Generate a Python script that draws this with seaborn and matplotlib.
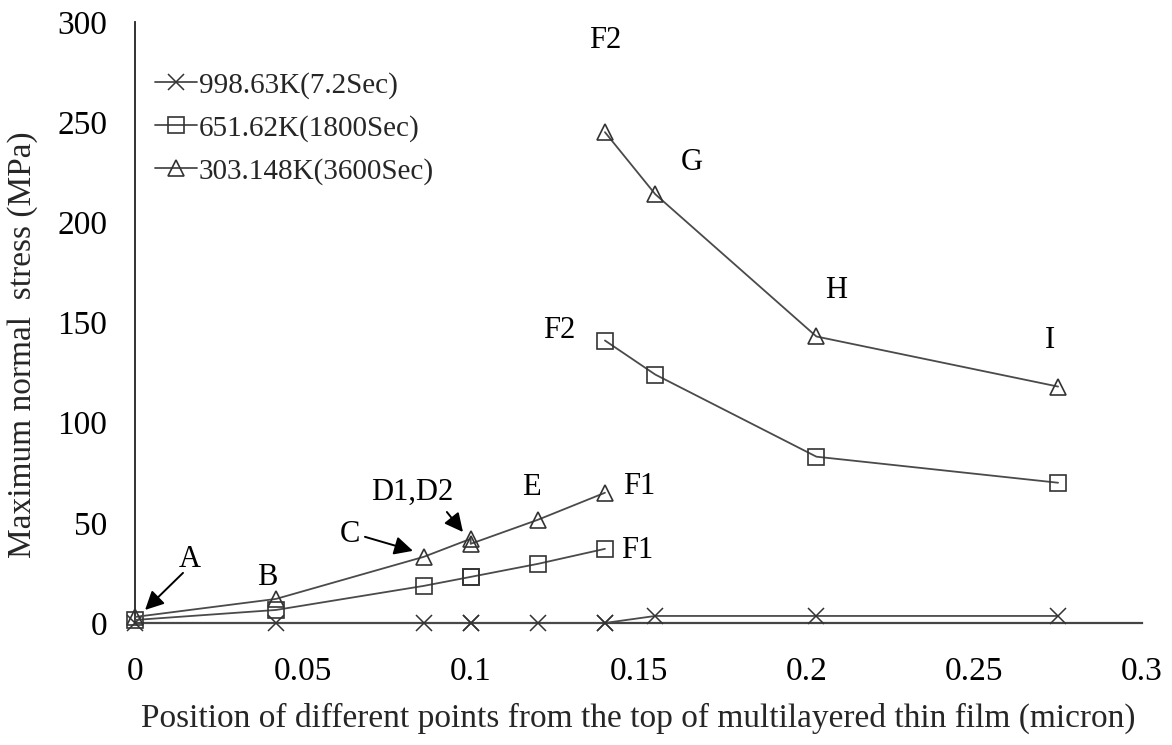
import numpy as np
import pandas as pd
import matplotlib
matplotlib.use("Agg")
import matplotlib.pyplot as plt
from matplotlib.lines import Line2D
import seaborn as sns

# ---------------- data ----------------
point_labels = ["A", "B", "C", "D1", "D2", "E", "F1", "F2", "G", "H", "I"]
x_pos = [0.0, 0.042, 0.086, 0.1, 0.1, 0.12, 0.14, 0.14, 0.155, 0.203, 0.275]
segment = [1, 1, 1, 1, 1, 1, 1, 2, 2, 2, 2]

stress_998 = [0, 0, 0, 0, 0, 0, 0, 0, 3.5, 3.5, 3.5]
stress_651 = [1.5, 6.5, 18.5, 23, 23, 29.5, 37, 141, 124, 83, 70]
stress_303 = [3, 12, 33, 42, 39.5, 51.5, 65, 245, 214, 143, 118]

series_names = ["998.63K(7.2Sec)", "651.62K(1800Sec)", "303.148K(3600Sec)"]
x_ticks = [0, 0.05, 0.1, 0.15, 0.2, 0.25, 0.3]
x_tick_labels = ["0", "0.05", "0.1", "0.15", "0.2", "0.25", "0.3"]
y_ticks = [0, 50, 100, 150, 200, 250, 300]

xlabel = "Position of different points from the top of multilayered thin film (micron)"
ylabel = "Maximum normal  stress (MPa)"

# annotation texts and their positions (data coords)
ann_texts = ["A", "B", "C", "D1,D2", "E", "F1", "F1", "F2", "F2", "G", "H", "I"]
ann_x = [0.0164, 0.0393, 0.064, 0.0825, 0.118, 0.1503, 0.1497, 0.1265, 0.140, 0.166, 0.209, 0.2726]
ann_y = [31.5, 22.5, 44, 65, 67.5, 68, 36, 146, 291, 230, 166, 141]

arrow_start = [(0.0143, 25), (0.0685, 43), (0.0929, 55.4)]
arrow_end = [(0.003, 6.5), (0.0828, 36), (0.0977, 45.4)]

# ---------------- style ----------------
sns.set_theme(style="white")
plt.rcParams["font.family"] = ["Liberation Serif", "DejaVu Serif"]
FS_TICK = 24
FS_LAB = 24
FS_ANN = 22
FS_LEG = 21
line_col = "#4a4a4a"
mk_col = "#333333"

fig = plt.figure(figsize=(11.72, 7.45), dpi=100)
ax = fig.add_axes([0.1152, 0.1638, 0.8592, 0.8067])

df = pd.DataFrame({"x": x_pos, "seg": segment, "label": point_labels,
                   "s998": stress_998, "s651": stress_651, "s303": stress_303})

# cross series: one continuous line
sns.lineplot(data=df, x="x", y="s998", ax=ax, sort=False, estimator=None,
             color=line_col, lw=1.3, marker="x", markersize=12,
             markeredgecolor=mk_col, markeredgewidth=1.1, zorder=3)
for col, mk in [("s651", "s"), ("s303", "^")]:
    sns.lineplot(data=df, x="x", y=col, units="seg", ax=ax, sort=False,
                 estimator=None, color=line_col, lw=1.3, marker=mk,
                 markersize=12, markerfacecolor="none",
                 markeredgecolor=mk_col, markeredgewidth=1.2, zorder=3)

ax.set_xlim(0, 0.3)
ax.set_ylim(0, 300)
ax.set_xticks(x_ticks)
ax.set_xticklabels(x_tick_labels)
ax.set_yticks(y_ticks)
ax.tick_params(axis="both", length=0, labelsize=FS_TICK, colors="black")
ax.tick_params(axis="x", pad=24)
ax.tick_params(axis="y", pad=20)

for s in ["top", "right"]:
    ax.spines[s].set_visible(False)
ax.spines["left"].set_color("#222222")
ax.spines["left"].set_linewidth(1.3)
ax.spines["bottom"].set_color("#444444")
ax.spines["bottom"].set_linewidth(1.6)
ax.spines["left"].set_zorder(1)
ax.spines["bottom"].set_zorder(1)
for ln in ax.lines:
    ln.set_clip_on(False)

ax.set_xlabel(xlabel, fontsize=FS_LAB)
ax.set_ylabel(ylabel, fontsize=FS_LAB)
ax.xaxis.set_label_coords(0.5, -0.132)
ax.yaxis.set_label_coords(-0.096, 0.4626)

# annotations
for t, xx, yy in zip(ann_texts, ann_x, ann_y):
    ax.text(xx, yy, t, fontsize=FS_ANN, ha="center", va="center", color="black")
for st, en in zip(arrow_start, arrow_end):
    ax.annotate("", xy=en, xytext=st,
                arrowprops=dict(arrowstyle="-|>", color="black", lw=1.4,
                                mutation_scale=28, shrinkA=0, shrinkB=0))

# legend
handles = [
    Line2D([], [], color=line_col, lw=1.3, marker="x", markersize=12,
           markeredgecolor=mk_col, markeredgewidth=1.1),
    Line2D([], [], color=line_col, lw=1.3, marker="s", markersize=12,
           markerfacecolor="none", markeredgecolor=mk_col, markeredgewidth=1.2),
    Line2D([], [], color=line_col, lw=1.3, marker="^", markersize=12,
           markerfacecolor="none", markeredgecolor=mk_col, markeredgewidth=1.2),
]
leg = ax.legend(handles, series_names, loc="upper left",
                bbox_to_anchor=(0.0199, 0.917), frameon=False, fontsize=FS_LEG,
                handlelength=1.45, handletextpad=0.05, labelspacing=0.55,
                borderpad=0, borderaxespad=0)

fig.savefig("out.png", dpi=100, facecolor="white")
